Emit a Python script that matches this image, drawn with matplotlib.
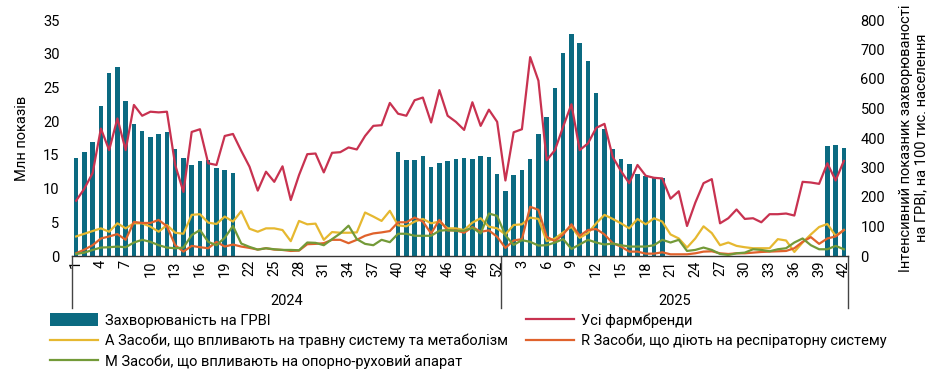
import matplotlib
matplotlib.use("Agg")
import matplotlib.pyplot as plt
import matplotlib.transforms as mtransforms
from matplotlib.patches import Patch
from matplotlib.lines import Line2D
import numpy as np

plt.rcParams['font.family'] = ['Roboto', 'DejaVu Sans']

weeks_2024 = list(range(1, 53))
weeks_2025 = list(range(1, 43))
years = ["2024", "2025"]

N = None
arvi_2024 = [331, 354, 388, 509, 622, 639, 527, 448, 425, 403, 412, 420, 362, 332, 310, 322, 326, 300, 292, 282] + [N] * 19 + \
            [351, 325, 325, 340, 303, 314, 323, 329, 332, 328, 340, 336, 278]
arvi_2025 = [221, 274, 291, 330, 414, 471, 569, 688, 752, 722, 662, 554, 431, 363, 330, 311, 277, 272, 269, 266] + [N] * 19 + \
            [374, 376, 365]

all_2024 = [8.2, 10.0, 12.3, 18.9, 15.7, 20.4, 15.7, 22.4, 20.8, 21.4,
            21.3, 21.4, 13.5, 9.5, 18.4, 18.8, 13.75, 13.5, 17.8, 18.1,
            15.6, 13.25, 9.7, 12.5, 11.0, 13.3, 8.3, 12.0, 15.1, 15.2,
            12.4, 15.3, 15.4, 16.1, 15.8, 17.8, 19.3, 19.4, 22.7, 21.1,
            20.8, 23.1, 23.5, 19.8, 24.6, 20.8, 19.9, 18.7, 22.8, 19.3,
            21.7, 19.9]
all_2025 = [11.2, 18.35, 18.8, 29.5, 26.0, 14.2, 15.7, 19.2, 22.5, 15.7,
            16.7, 19.0, 19.6, 14.7, 12.6, 10.8, 13.5, 11.9, 11.6, 11.5,
            8.5, 9.6, 4.45, 7.9, 10.8, 11.4, 4.85, 5.6, 6.9, 5.5,
            5.6, 5.0, 6.2, 6.2, 6.3, 6.0, 11.0, 10.9, 10.7, 13.75,
            11.2, 14.1]

a_2024 = [2.9, 3.3, 3.7, 4.1, 3.6, 4.85, 4.1, 4.85, 4.85, 4.35,
          3.6, 4.6, 3.45, 3.3, 6.1, 6.2, 4.95, 4.75, 5.85, 5.1,
          6.65, 4.05, 3.6, 4.1, 4.1, 3.85, 2.2, 5.2, 4.7, 4.8,
          2.4, 3.55, 3.45, 3.45, 3.5, 6.45, 5.85, 5.2, 6.7, 4.55,
          4.4, 5.1, 5.5, 4.85, 5.1, 4.1, 4.1, 3.85, 4.95, 5.6,
          4.35, 4.1]
a_2025 = [3.2, 4.6, 4.7, 5.7, 5.5, 2.2, 2.6, 3.5, 4.35, 2.7,
          3.4, 4.85, 6.1, 5.5, 4.85, 4.1, 5.5, 4.7, 5.6, 5.1,
          3.2, 2.6, 1.25, 2.6, 4.4, 3.4, 1.6, 2.0, 1.5, 1.3,
          1.15, 1.15, 1.15, 2.5, 2.3, 0.6, 2.0, 3.2, 4.3, 4.75,
          3.0, 3.85]

r_2024 = [0.4, 0.95, 1.6, 2.6, 2.9, 3.25, 2.4, 5.05, 4.9, 4.9,
          5.35, 4.4, 1.6, 0.65, 1.5, 1.3, 1.15, 2.1, 1.4, 1.7,
          1.4, 1.2, 0.95, 1.15, 0.95, 0.9, 0.75, 0.8, 1.75, 1.8,
          1.9, 2.4, 2.4, 1.9, 2.4, 3.0, 3.35, 3.5, 3.7, 5.0,
          5.0, 5.7, 5.1, 3.35, 5.35, 3.8, 3.8, 3.45, 4.3, 3.6,
          3.8, 2.85]
r_2025 = [1.2, 2.3, 2.5, 7.3, 6.85, 2.85, 2.2, 3.2, 4.7, 3.0,
          3.85, 4.0, 3.2, 1.9, 1.4, 0.65, 0.65, 0.35, 0.35, 0.55,
          0.25, 0.25, 0.25, 0.4, 0.65, 0.7, 0.4, 0.3, 0.4, 0.4,
          0.5, 0.6, 0.65, 0.7, 0.75, 1.15, 2.1, 2.8, 1.8, 2.6,
          2.9, 3.85]

m_2024 = [0.3, 0.5, 0.9, 1.25, 1.3, 1.4, 1.3, 2.0, 2.4, 2.1,
          1.6, 1.25, 1.15, 1.25, 3.1, 3.85, 2.1, 1.6, 2.7, 4.45,
          1.85, 1.35, 0.95, 1.15, 1.0, 0.9, 0.9, 0.85, 2.0, 1.95,
          1.6, 2.5, 3.35, 4.5, 2.5, 1.8, 1.6, 2.4, 2.05, 3.3,
          3.3, 3.0, 3.0, 3.0, 3.75, 3.85, 3.75, 3.75, 4.2, 3.35,
          6.3, 5.95]
m_2025 = [3.05, 1.65, 2.35, 2.1, 1.55, 1.6, 2.0, 2.5, 1.05, 1.7,
          2.4, 2.0, 1.7, 1.85, 1.6, 1.4, 1.4, 1.4, 1.6, 2.4,
          2.0, 2.4, 0.75, 0.9, 1.25, 0.9, 0.3, 0.15, 0.4, 0.5,
          1.0, 0.9, 0.7, 1.0, 1.15, 2.0, 2.6, 1.6, 1.0, 1.0,
          1.5, 1.0]

labels = ["Захворюваність на ГРВІ", "Усі фармбренди",
          "А Засоби, що впливають на травну систему та метаболізм",
          "R Засоби, що діють на респіраторну систему",
          "М Засоби, що впливають на опорно-руховий апарат"]

c_bar = '#0b6a81'
c_all = '#c83250'
c_a = '#e6b830'
c_r = '#e0622c'
c_m = '#739a38'

week_labels = [str(w) for w in weeks_2024] + [str(w) for w in weeks_2025]
n = len(week_labels)
x = np.arange(n)

def arr(a, b):
    return np.array([np.nan if v is None else v for v in a + b], dtype=float)

bars = arr(arvi_2024, arvi_2025)
s_all = arr(all_2024, all_2025)
s_a = arr(a_2024, a_2025)
s_r = arr(r_2024, r_2025)
s_m = arr(m_2024, m_2025)

fig = plt.figure(figsize=(9.45, 3.72), dpi=100)
ax = fig.add_axes([72/945, 1-256/372, (848-72)/945, (256-20)/372])
ax2 = ax.twinx()
ax.set_zorder(ax2.get_zorder() + 1)
ax.patch.set_visible(False)

ax2.bar(x, bars, width=0.55, color=c_bar, zorder=2)
lw = 1.6
ax.plot(x, s_all, color=c_all, lw=lw, zorder=5)
ax.plot(x, s_a, color=c_a, lw=lw, zorder=4)
ax.plot(x, s_r, color=c_r, lw=lw, zorder=4)
ax.plot(x, s_m, color=c_m, lw=lw, zorder=4)

ax.set_xlim(-0.5, n - 0.5)
ax.set_ylim(0, 35)
ax2.set_ylim(0, 800)
ax.set_yticks(range(0, 36, 5))
ax2.set_yticks(range(0, 801, 100))

fs = 10.5
ax.tick_params(axis='y', length=0, pad=9, labelsize=fs)
ax2.tick_params(axis='y', length=0, pad=9, labelsize=fs)
ticks = list(range(0, n, 3))
ax.set_xticks(ticks)
ax.set_xticklabels([week_labels[i] for i in ticks], rotation=90, fontsize=fs)
ax.tick_params(axis='x', length=0, pad=3)

for a_ in (ax, ax2):
    for s in ('top', 'left', 'right'):
        a_.spines[s].set_visible(False)
ax2.spines['bottom'].set_visible(False)
ax.spines['bottom'].set_color('#333333')
ax.spines['bottom'].set_linewidth(1.0)

ax.set_ylabel("Млн показів", fontsize=fs, labelpad=10)
ax2.set_ylabel("Інтенсивний показник захворюваності\nна ГРВІ, на 100 тис. населення",
               fontsize=fs, labelpad=10, linespacing=1.1)

trans = mtransforms.blended_transform_factory(ax.transData, ax.transAxes)
sep = [-0.5, len(weeks_2024) - 0.5, n - 0.5]
for xs in sep:
    ax.plot([xs, xs], [0, -0.22], transform=trans, color='#444444', lw=1.0, clip_on=False)
centers = [(sep[0] + sep[1]) / 2, (sep[1] + sep[2]) / 2]
for cx, yr in zip(centers, years):
    ax.text(cx, -0.19, yr, transform=trans, ha='center', va='center', fontsize=fs)

handles = [Patch(facecolor=c_bar, edgecolor='none'),
           Line2D([], [], color=c_a, lw=1.6),
           Line2D([], [], color=c_m, lw=1.6),
           Line2D([], [], color=c_all, lw=1.6),
           Line2D([], [], color=c_r, lw=1.6)]
lab = [labels[0], labels[2], labels[4], labels[1], labels[3]]
fig.legend(handles, lab, loc='upper left', bbox_to_anchor=(50/945, 1-313/372), ncol=2,
           frameon=False, fontsize=fs, handlelength=3.3, handleheight=0.9, handletextpad=0.5,
           columnspacing=1.2, labelspacing=0.42, borderaxespad=0, borderpad=0)

fig.savefig("out.png", dpi=100)
